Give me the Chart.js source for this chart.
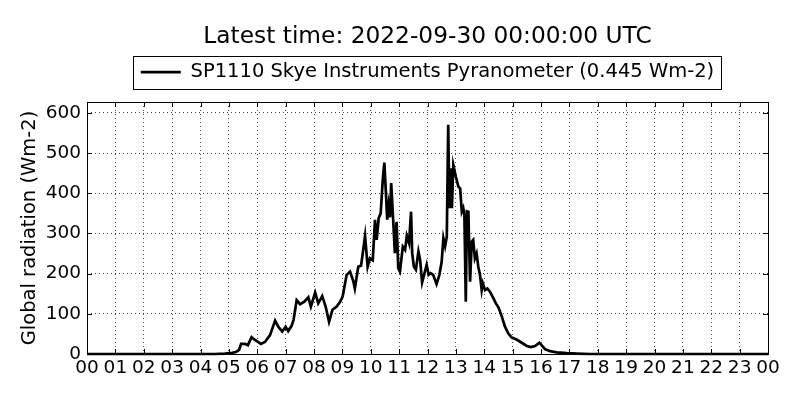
<!DOCTYPE html>
<html>
<head>
<meta charset="utf-8">
<script src="https://cdn.jsdelivr.net/npm/chart.js@4/dist/chart.umd.min.js"></script>
<style>
html,body{margin:0;padding:0;background:#fff;}
#wrap{width:800px;height:400px;position:relative;}
</style>
</head>
<body>
<div id="wrap"><canvas id="c" width="800" height="400"></canvas></div>
<script>
// ---- data ----
const titleText = 'Latest time: 2022-09-30 00:00:00 UTC';
const seriesLabel = 'SP1110 Skye Instruments Pyranometer (0.445 Wm-2)';
const yAxisLabel = 'Global radiation (Wm-2)';
const xTickLabels = ['00','01','02','03','04','05','06','07','08','09','10','11','12','13','14','15','16','17','18','19','20','21','22','23','00'];
const yTickValues = [0,100,200,300,400,500,600];
const hours = [0,1,2,3,4,4.5,4.86,5.11,5.25,5.36,5.43,5.57,5.67,5.80,5.92,6.13,6.27,6.45,6.63,6.74,6.88,7.00,7.09,7.21,7.28,7.39,7.51,7.66,7.80,7.89,8.04,8.15,8.29,8.41,8.53,8.65,8.80,8.92,9.01,9.15,9.27,9.39,9.44,9.56,9.66,9.80,9.89,9.97,10.07,10.15,10.21,10.28,10.35,10.42,10.45,10.48,10.54,10.58,10.63,10.68,10.72,10.79,10.85,10.91,10.97,11.03,11.13,11.21,11.27,11.35,11.42,11.46,11.52,11.59,11.68,11.74,11.81,11.88,11.97,12.04,12.11,12.20,12.32,12.42,12.50,12.56,12.62,12.68,12.73,12.77,12.83,12.86,12.91,13.00,13.09,13.15,13.21,13.26,13.30,13.35,13.39,13.44,13.50,13.56,13.61,13.67,13.73,13.79,13.85,13.91,13.95,14.03,14.11,14.20,14.32,14.41,14.50,14.62,14.73,14.85,14.97,15.14,15.32,15.50,15.64,15.79,15.94,16.02,16.14,16.32,16.55,16.91,17.26,17.73,18,20,22,24];
const radiation = [0,0,0,0,0,0,1,3,5,10,25,25,22,42,35,25,30,47,83,68,56,68,57,70,85,134,124,130,141,118,153,126,144,118,80,110,118,130,143,197,205,180,163,217,220,294,217,238,233,334,284,338,350,429,455,476,392,334,370,340,425,334,251,329,213,205,267,259,294,276,354,251,217,210,255,234,178,197,222,197,201,197,174,197,230,288,268,292,570,363,462,363,470,441,416,412,354,363,346,130,355,354,180,280,284,238,250,217,197,159,176,159,163,155,139,126,116,93,68,51,41,36,28,20,17,20,28,22,12,7,4,2,1,0,0,0,0,0];
const yMax = 627;

const FONT = 'DejaVu Sans';

const framePlugin = {
  id: 'frame',
  afterDraw(chart) {
    const {ctx, chartArea: a, scales} = chart;
    ctx.save();
    ctx.strokeStyle = '#000';
    ctx.lineWidth = 1;
    // inward ticks
    ctx.beginPath();
    for (let i = 0; i < xTickLabels.length; i++) {
      const px = Math.round(scales.x.getPixelForValue(i)) + 0.5;
      ctx.moveTo(px, a.bottom); ctx.lineTo(px, a.bottom - 5);
      ctx.moveTo(px, a.top); ctx.lineTo(px, a.top + 5);
    }
    yTickValues.forEach(v => {
      const py = Math.round(scales.y.getPixelForValue(v)) + 0.5;
      ctx.moveTo(a.left, py); ctx.lineTo(a.left + 5, py);
      ctx.moveTo(a.right, py); ctx.lineTo(a.right - 5, py);
    });
    ctx.stroke();
    ctx.strokeRect(Math.round(a.left) + 0.5, Math.round(a.top) + 0.5, Math.round(a.right - a.left), Math.round(a.bottom - a.top));
    // legend frame
    const lg = chart.legend;
    if (lg && lg.legendHitBoxes && lg.legendHitBoxes.length) {
      const hb = lg.legendHitBoxes[0];
      const cy = hb.top + hb.height / 2;
      ctx.strokeStyle = '#000';
      ctx.lineWidth = 1;
      ctx.strokeRect(Math.round(hb.left - 8) + 0.5, Math.round(cy - 16.5) + 0.5, Math.round(hb.width + 15), 33);
    }
    ctx.restore();
  }
};

new Chart(document.getElementById('c'), {
  type: 'line',
  data: {
    datasets: [{
      label: seriesLabel,
      data: hours.map((h, i) => ({x: h, y: radiation[i]})),
      borderColor: '#000',
      backgroundColor: '#000',
      borderWidth: 2.7,
      pointRadius: 0,
      tension: 0,
      fill: false,
      clip: 4
    }]
  },
  options: {
    responsive: false,
    animation: false,
    devicePixelRatio: 1,
    layout: {padding: {left: 0, right: 32, top: 0, bottom: 0}},
    plugins: {
      title: {
        display: true,
        text: titleText,
        fullSize: false,
        color: '#000',
        font: {family: FONT, size: 23.3, weight: 'normal'},
        padding: {top: 23, bottom: -18.5}
      },
      legend: {
        display: true,
        fullSize: false,
        position: 'top',
        labels: {
          color: '#000',
          font: {family: FONT, size: 19.5},
          usePointStyle: true,
          pointStyle: 'line',
          pointStyleWidth: 40,
          boxWidth: 40,
          padding: 30
        }
      },
      tooltip: {enabled: false}
    },
    scales: {
      x: {
        type: 'linear',
        min: 0, max: 24,
        afterFit: s => { s.height = 46; },
        afterBuildTicks: s => { s.ticks = xTickLabels.map((_, i) => ({value: i})); },
        ticks: {
          autoSkip: false, maxRotation: 0, minRotation: 0,
          color: '#000', padding: 3,
          font: {family: FONT, size: 18.5},
          callback: (v, i) => xTickLabels[i]
        },
        grid: {color: 'rgba(0,0,0,0.75)', lineWidth: 1, drawTicks: false},
        border: {display: false, dash: [1, 3]}
      },
      xTop: {
        type: 'linear',
        position: 'top',
        min: 0, max: 24,
        afterFit: s => { s.height = 10; },
        ticks: {display: false},
        grid: {display: false, drawTicks: false},
        border: {display: false}
      },
      y: {
        type: 'linear',
        min: 0, max: yMax,
        afterFit: s => { s.width = 87; },
        afterBuildTicks: s => { s.ticks = yTickValues.map(v => ({value: v})); },
        ticks: {
          color: '#000', padding: 6,
          font: {family: FONT, size: 18.5}
        },
        grid: {color: 'rgba(0,0,0,0.75)', lineWidth: 1, drawTicks: false},
        border: {display: false, dash: [1, 3]},
        title: {
          display: true,
          text: yAxisLabel,
          color: '#000',
          font: {family: FONT, size: 19.5},
          padding: {top: 18, bottom: 0}
        }
      }
    }
  },
  plugins: [framePlugin]
});
</script>
</body>
</html>
